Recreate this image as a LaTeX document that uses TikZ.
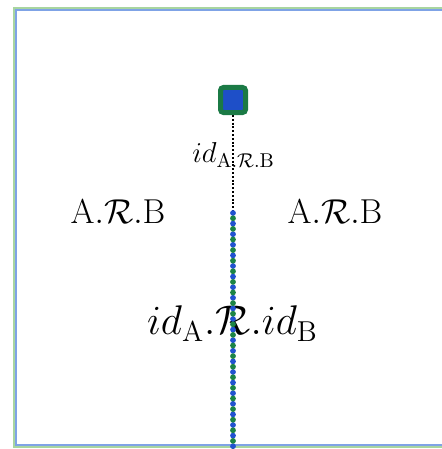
\documentclass[tikz,border=0pt]{standalone}
\usepackage{xcolor}
\usepackage{tikz}
\usepackage{amsmath}
\usetikzlibrary{positioning, calc}
\definecolor{framegreen}{HTML}{A8D5A0}
\definecolor{frameblue}{HTML}{7FA3E6}
\definecolor{objgreen}{HTML}{1B7A45}
\definecolor{objblue}{HTML}{1E4FC8}
\definecolor{dotgreen}{HTML}{1C8445}
\definecolor{dotblue}{HTML}{2152D0}
\tikzstyle{bigtext} = [font=\fontsize{18.9}{23}\selectfont, inner sep=0pt]
\tikzstyle{midtext} = [font=\fontsize{19.2}{23}\selectfont, inner sep=0pt]
\tikzstyle{smalltext} = [font=\fontsize{14.5}{18}\selectfont, inner sep=0pt]
\tikzstyle{object} = [draw=objgreen, line width=2.5pt, rounded corners=1.5pt, fill=objblue, minimum size=12.5pt, inner sep=0pt]
\tikzstyle{link} = [line width=0.8pt, dash pattern=on 1pt off 0.9pt]
\tikzstyle{lifeblue} = [dotblue, line width=2.9pt, line cap=round, dash pattern=on 0pt off 5.3pt]
\tikzstyle{lifegreen} = [dotgreen, line width=2.9pt, line cap=round, dash pattern=on 0pt off 5.3pt, dash phase=2.65pt]

\begin{document}
\begin{tikzpicture}[x=0.5pt, y=-0.5pt]
    \useasboundingbox (0,0) rectangle (442,449);
    % frame
    \draw[framegreen, line width=1.1pt] (14,8) rectangle (460,447);
    \draw[frameblue, line width=1.1pt] (16,10) rectangle (460,445);

    \node[object] (obj) at (233,100) {};
    \node[smalltext] (lbl) at (233.5,155) {$id_{\mathrm{A}.\mathcal{R}.\mathrm{B}}$};
    \coordinate (mid) at (233,213);
    \coordinate (end) at (233,452);

    \node[bigtext] (left) at (118,212) {$\mathrm{A}.\mathcal{R}.\mathrm{B}$};
    \node[bigtext] (right) at (335,212) {$\mathrm{A}.\mathcal{R}.\mathrm{B}$};
    \node[midtext] (inst) at (232.5,323.5) {$id_{\mathrm{A}}.\mathcal{R}.id_{\mathrm{B}}$};

    \draw[link] (obj.south) -- (mid);
    \draw[lifeblue] (mid) -- (end);
    \draw[lifegreen] (mid) -- (end);
\end{tikzpicture}
\end{document}
